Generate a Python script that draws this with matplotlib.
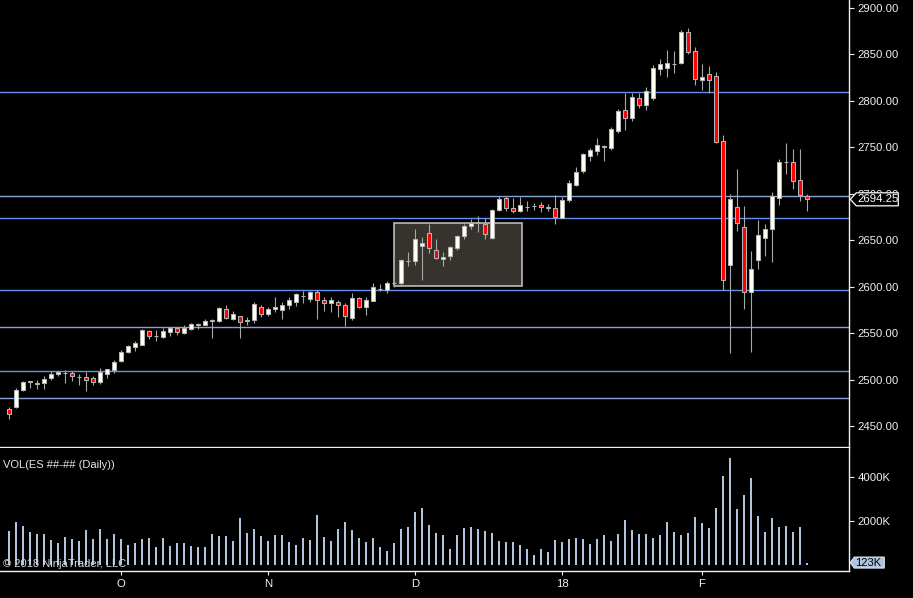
import numpy as np
import matplotlib
matplotlib.use('Agg')
import matplotlib.pyplot as plt
from matplotlib.patches import Rectangle, Polygon

# %% Daten (ES Daily)

opens = [2468.8, 2471.0, 2489.6, 2498.4, 2496.2, 2496.8, 2502.5, 2506.1, 2507.6, 2507.8,
         2503.3, 2502.9, 2501.8, 2498.2, 2506.8, 2511.1, 2520.7, 2530.1, 2535.5, 2537.9,
         2552.4, 2547.1, 2546.6, 2551.9, 2555.6, 2550.5, 2555.2, 2559.3, 2559.5, 2563.6,
         2563.8, 2576.0, 2565.9, 2568.5, 2563.0, 2564.9, 2578.8, 2571.3, 2576.0, 2574.9,
         2580.3, 2583.5, 2590.4, 2586.8, 2594.3, 2585.7, 2583.1, 2583.9, 2580.6, 2567.0,
         2587.8, 2578.8, 2585.3, 2597.6, 2596.4, 2604.4, 2604.6, 2627.8, 2627.6, 2643.8,
         2657.7, 2639.5, 2629.8, 2633.7, 2642.3, 2655.2, 2665.9, 2669.4, 2668.1, 2652.7,
         2683.1, 2695.4, 2684.6, 2681.4, 2685.8, 2686.6, 2687.8, 2685.1, 2684.6, 2674.5,
         2693.5, 2710.0, 2725.1, 2741.2, 2746.6, 2750.7, 2749.5, 2768.1, 2790.3, 2782.0,
         2803.2, 2796.0, 2803.6, 2834.7, 2835.8, 2839.9, 2841.2, 2873.9, 2853.4, 2822.9,
         2828.7, 2826.6, 2756.7, 2624.0, 2685.7, 2664.8, 2594.3, 2628.7, 2653.0, 2662.7,
         2695.4, 2734.5, 2734.1, 2714.7, 2698.2]
highs = [2470.6, 2491.1, 2498.6, 2498.8, 2500.0, 2504.3, 2509.7, 2510.0, 2510.7, 2509.7,
         2506.1, 2508.3, 2504.6, 2512.9, 2512.2, 2521.5, 2532.2, 2537.6, 2541.9, 2554.5,
         2553.8, 2553.4, 2556.2, 2557.0, 2556.7, 2559.1, 2561.3, 2561.6, 2565.6, 2565.3,
         2578.2, 2580.6, 2573.9, 2569.1, 2568.1, 2583.5, 2581.0, 2578.8, 2589.2, 2583.5,
         2588.9, 2593.2, 2596.0, 2595.7, 2597.1, 2588.9, 2588.9, 2586.0, 2582.8, 2593.9,
         2589.6, 2588.9, 2604.3, 2603.2, 2606.4, 2606.4, 2630.1, 2637.3, 2662.4, 2653.8,
         2667.4, 2651.6, 2637.6, 2644.1, 2655.9, 2667.7, 2673.4, 2676.3, 2674.2, 2684.2,
         2697.8, 2697.8, 2695.7, 2696.7, 2692.5, 2690.0, 2691.1, 2688.9, 2698.6, 2696.4,
         2715.1, 2729.0, 2744.4, 2749.1, 2760.2, 2752.4, 2771.7, 2791.1, 2808.9, 2808.9,
         2808.9, 2815.1, 2838.4, 2845.2, 2854.8, 2853.8, 2876.3, 2878.5, 2857.7, 2839.8,
         2837.6, 2831.2, 2763.1, 2700.0, 2726.9, 2686.8, 2638.7, 2672.0, 2667.7, 2702.1,
         2737.3, 2754.8, 2748.4, 2748.4, 2699.7]
lows = [2458.1, 2469.9, 2488.5, 2491.7, 2490.3, 2490.3, 2500.0, 2504.3, 2496.8, 2498.9,
        2494.6, 2488.5, 2494.9, 2495.7, 2502.5, 2507.8, 2519.7, 2528.7, 2531.2, 2537.6,
        2544.1, 2542.3, 2545.2, 2547.6, 2548.7, 2549.8, 2553.8, 2555.2, 2559.3, 2544.8,
        2562.7, 2565.3, 2564.5, 2544.8, 2559.1, 2561.0, 2567.5, 2568.8, 2573.1, 2565.3,
        2576.0, 2579.6, 2583.1, 2583.9, 2565.6, 2574.2, 2573.4, 2567.5, 2558.4, 2564.9,
        2577.4, 2569.9, 2584.9, 2596.0, 2593.2, 2600.0, 2601.1, 2622.9, 2623.7, 2607.8,
        2636.6, 2630.1, 2622.9, 2629.4, 2639.8, 2651.6, 2662.7, 2659.5, 2651.9, 2651.6,
        2682.0, 2681.7, 2679.2, 2681.0, 2681.7, 2682.8, 2681.0, 2681.4, 2667.7, 2673.9,
        2691.7, 2708.3, 2722.9, 2735.8, 2741.9, 2735.8, 2747.6, 2765.9, 2769.1, 2778.8,
        2792.8, 2790.6, 2801.1, 2828.3, 2825.8, 2830.5, 2840.1, 2850.9, 2817.5, 2812.3,
        2808.9, 2755.2, 2596.4, 2529.3, 2660.5, 2576.7, 2530.4, 2619.7, 2633.3, 2627.2,
        2688.5, 2721.8, 2705.4, 2692.8, 2682.0]
closes = [2463.8, 2489.2, 2497.5, 2498.0, 2496.0, 2501.1, 2506.4, 2508.9, 2508.0, 2504.6,
          2503.7, 2500.3, 2497.8, 2508.3, 2511.5, 2519.0, 2530.1, 2536.6, 2539.8, 2553.4,
          2547.6, 2547.5, 2552.7, 2556.2, 2551.6, 2555.9, 2559.9, 2559.7, 2563.1, 2564.0,
          2577.1, 2566.3, 2570.9, 2562.0, 2565.0, 2581.4, 2571.3, 2576.0, 2578.2, 2580.3,
          2585.7, 2592.1, 2590.8, 2594.3, 2586.3, 2582.5, 2586.0, 2581.0, 2568.5, 2588.2,
          2578.8, 2586.3, 2600.0, 2598.0, 2603.9, 2604.8, 2628.7, 2628.2, 2651.3, 2647.0,
          2641.6, 2630.9, 2631.9, 2642.7, 2654.5, 2665.6, 2668.5, 2669.8, 2656.7, 2682.8,
          2694.6, 2684.6, 2681.4, 2687.8, 2686.2, 2687.0, 2685.7, 2685.5, 2675.6, 2693.5,
          2711.5, 2723.3, 2743.0, 2747.3, 2752.7, 2751.1, 2770.2, 2789.6, 2782.0, 2804.3,
          2796.0, 2810.8, 2835.2, 2839.8, 2840.9, 2840.3, 2874.2, 2853.0, 2824.0, 2825.8,
          2822.3, 2756.2, 2607.8, 2694.6, 2668.5, 2594.3, 2619.0, 2655.6, 2662.4, 2697.8,
          2734.1, 2734.9, 2713.7, 2698.6, 2694.25]
volume_k = [1559, 1968, 1786, 1514, 1423, 1423, 1150, 1014, 1286, 1195,
            1105, 1604, 1195, 1650, 1195, 1423, 1195, 923, 1014, 1195,
            1241, 832, 1241, 877, 1014, 1014, 877, 832, 832, 1423,
            1332, 1332, 1105, 2150, 1468, 1650, 1332, 1105, 1377, 1377,
            1059, 923, 1241, 1150, 2286, 1286, 1105, 1650, 1968, 1604,
            1241, 1059, 1241, 832, 650, 1014, 1650, 1741, 2423, 2604,
            1832, 1468, 1377, 741, 1377, 1695, 1741, 1650, 1559, 1468,
            1105, 1059, 1059, 923, 741, 468, 741, 605, 1150, 1059,
            1195, 1241, 1195, 968, 1195, 1377, 1105, 1423, 2059, 1604,
            1423, 1423, 1241, 1377, 1968, 1514, 1377, 1468, 2195, 1923,
            1695, 2604, 4059, 4877, 2559, 3195, 3968, 2241, 1514, 2150,
            1741, 1786, 1514, 1741, 123]

# Monatsbeschriftung (Index des ersten Handelstages)
month_pos = [16, 37, 58, 79, 99]
month_labels = ['O', 'N', 'D', '18', 'F']

# horizontale Linien (Unterstuetzung / Widerstand)
levels = [2810.0, 2698.0, 2674.0, 2596.5, 2557.0, 2510.0, 2481.0]
level_colors = ['#6490ee', '#8aa3d6', '#6490ee', '#6490ee', '#8aa3d6', '#6490ee', '#8aa3d6']

# Rechteck (Zeichenobjekt)
box_start, box_end = 55.0, 73.25
box_low, box_high = 2600.7, 2668.5

# %% Plot

BG = 'black'
FG = '#f0f0f0'
FONT = 'Liberation Sans'

x = np.arange(len(closes))
o = np.array(opens)
c = np.array(closes)
h = np.array(highs)
l = np.array(lows)
up = c >= o

fig = plt.figure(figsize=(9.13, 5.98), dpi=100, facecolor=BG)
ax = fig.add_axes([0.0, 0.2525, 0.9302, 0.7475], facecolor=BG)
axv = fig.add_axes([0.0, 0.0452, 0.9302, 0.2056], facecolor=BG, sharex=ax)

for lev, col in zip(levels, level_colors):
    ax.axhline(lev, color=col, lw=1.0, zorder=1)

ax.add_patch(Rectangle((box_start, box_low), box_end - box_start, box_high - box_low,
                       facecolor='#36322d', edgecolor='#c8c8c8', lw=1.1, zorder=1.5))

ax.vlines(x, l, h, color='#a8a8a8', lw=0.8, zorder=2)
body_bottom = np.minimum(o, c)
body_height = np.maximum(np.abs(c - o), 0.3)
fills = np.where(up, '#fffff2', '#ff0000')
ax.bar(x, body_height, bottom=body_bottom, width=0.7, color=fills,
       edgecolor='#b4b4b4', linewidth=0.75, zorder=3)

ax.set_xlim(-1.29, 120.04)
ax.set_ylim(2427.9, 2908.6)

for a in (ax, axv):
    for side in ('left', 'top'):
        a.spines[side].set_visible(False)
    for side in ('right', 'bottom'):
        a.spines[side].set_color(FG)
        a.spines[side].set_linewidth(1.0)
    a.yaxis.tick_right()
    a.tick_params(axis='y', colors=FG, length=3.6, width=0.8, pad=2.2, labelsize=8.2)

yt = np.arange(2450, 2901, 50)
ax.set_yticks(yt)
ax.set_yticklabels([f'{v:.2f}' for v in yt], fontfamily=FONT)
ax.tick_params(axis='x', bottom=False, labelbottom=False)

# Volumen
axv.bar(x, volume_k, width=0.19, color='#b0c4de', zorder=2)
axv.set_ylim(-259, 5331)
axv.set_yticks([2000, 4000])
axv.set_yticklabels(['2000K', '4000K'], fontfamily=FONT)
axv.set_xticks(month_pos)
axv.set_xticklabels(month_labels, fontfamily=FONT)
axv.tick_params(axis='x', colors=FG, length=3.0, width=0.8, pad=2.5, labelsize=8.2)

axv.text(0.004, 0.86, 'VOL(ES ##-## (Daily))', transform=axv.transAxes, color='#e6e6e6',
         fontsize=8, fontfamily=FONT, va='center', ha='left')
axv.text(0.003, 0.055, '\u00a9 2018 NinjaTrader, LLC', transform=axv.transAxes, color='#d8d8d8',
         fontsize=8, fontfamily=FONT, va='center', ha='left', zorder=5)

# Preis-Marker rechts (Pfeil-Label)
fig.canvas.draw()
x1 = ax.bbox.x1
last_price = closes[-1]
yp = ax.transData.transform((0, last_price))[1]
fig.add_artist(Polygon([(x1 + 1, yp), (x1 + 7, yp + 6.5), (x1 + 49, yp + 6.5),
                        (x1 + 49, yp - 6.5), (x1 + 7, yp - 6.5)], closed=True,
                       transform=None, facecolor='black', edgecolor='white', lw=0.9, zorder=5))
fig.text(x1 + 8.5, yp, f'{last_price:.2f}', transform=None, color='white', fontsize=8.2,
         fontfamily=FONT, va='center', ha='left', zorder=6)

last_vol = volume_k[-1]
yv = axv.transData.transform((0, last_vol))[1]
fig.add_artist(Polygon([(x1 + 1, yv), (x1 + 5, yv + 5.5), (x1 + 35, yv + 5.5),
                        (x1 + 35, yv - 5.5), (x1 + 5, yv - 5.5)], closed=True,
                       transform=None, facecolor='#b0c4de', edgecolor='#dde6f2', lw=0.8, zorder=5))
fig.text(x1 + 5.5, yv, f'{last_vol}K', transform=None, color='black', fontsize=8.0,
         fontfamily=FONT, va='center', ha='left', zorder=6)

fig.savefig('out.png', dpi=100, facecolor=BG)
